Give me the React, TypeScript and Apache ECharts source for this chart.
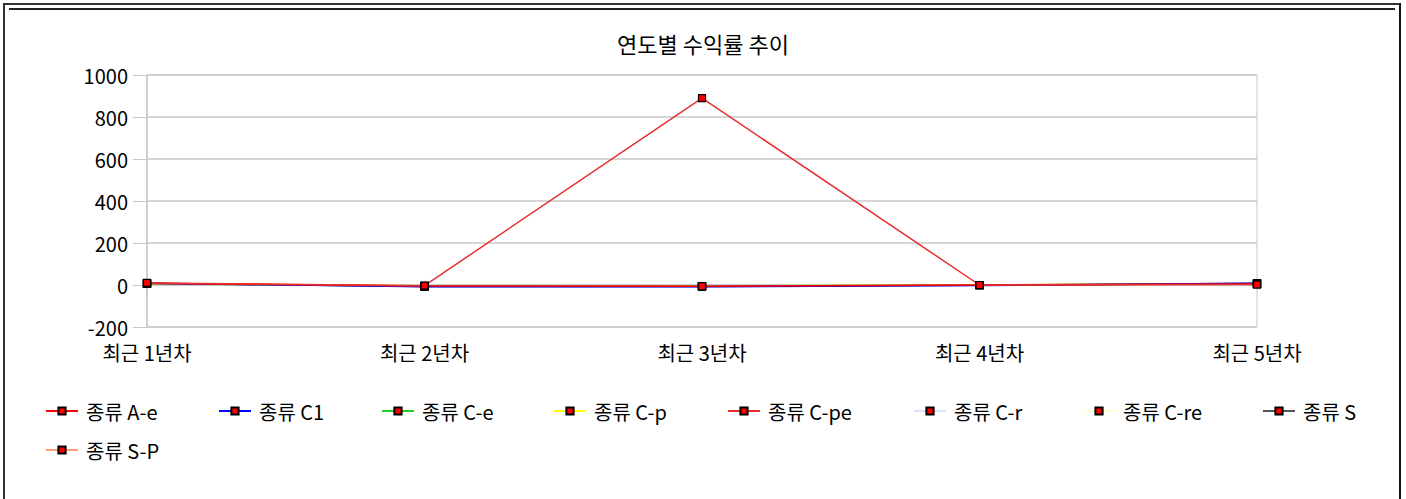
import React, { useEffect, useRef } from "react";
import * as echarts from "echarts";

const categories = ["최근 1년차", "최근 2년차", "최근 3년차", "최근 4년차", "최근 5년차"];
const seriesNames = ["종류 A-e", "종류 C1", "종류 C-e", "종류 C-p", "종류 C-pe", "종류 C-r", "종류 C-re", "종류 S", "종류 S-P"];
const seriesColors = ["#ff0000", "#0000ff", "#22cc22", "#ffff00", "#e83030", "#e0e0ff", "#ffffd0", "#555555", "#ffa070"];
const valuesAe = [8, -5, -6, 0, 5];
const valuesC1 = [8, -8, -8, -2, 8];
const valuesCe = [6, -5, -5, 0, 6];
const valuesCp = [6, -4, -5, 0, 5];
const valuesCpe = [10, -3, 890, 0, 2];
const valuesCr = [7, -6, -6, -1, 7];
const valuesCre = [6, -5, -5, 0, 6];
const valuesS = [8, -7, -7, -1, 8];
const valuesSP = [7, -6, -6, 0, 6];
const allValues = [valuesAe, valuesC1, valuesCe, valuesCp, valuesCpe, valuesCr, valuesCre, valuesS, valuesSP];
const drawOrder = [6, 5, 3, 2, 8, 7, 1, 0, 4];
const yTicks = { min: -200, max: 1000, interval: 200 };
const legendLefts = [45, 218, 381, 553, 727, 913, 1082, 1262, 45];
const legendRows = [0, 0, 0, 0, 0, 0, 0, 0, 1];

const FONT = "'Noto Sans CJK KR', 'Noto Sans', sans-serif";

export default function App() {
  const ref = useRef<HTMLDivElement>(null);
  useEffect(() => {
    if (!ref.current) return;
    const chart = echarts.init(ref.current, undefined, { renderer: "svg" });
    const series = drawOrder.map((i) => ({
      name: seriesNames[i],
      type: "line",
      data: allValues[i],
      symbol: "rect",
      symbolSize: 7,
      showSymbol: true,
      lineStyle: { color: seriesColors[i], width: 1.5 },
      itemStyle: { color: "#ff0000", borderColor: "#000000", borderWidth: 1.2 },
      emphasis: { disabled: true },
    }));
    const legends = seriesNames.map((n, i) => ({
      data: [n],
      left: legendLefts[i] - 5,
      top: 396 + legendRows[i] * 39,
      itemWidth: 32,
      itemHeight: 9,
      itemGap: 0,
      textStyle: { fontFamily: FONT, fontSize: 20, color: "#000", padding: [0, 0, 0, 3] },
      selectedMode: false,
    }));
    chart.setOption({
      animation: false,
      backgroundColor: "#ffffff",
      title: {
        text: "연도별 수익률 추이",
        left: "center",
        top: 27,
        textStyle: { fontFamily: FONT, fontSize: 22, fontWeight: "normal", color: "#000" },
      },
      legend: legends,
      grid: {
        left: 147,
        right: 149,
        top: 75,
        bottom: 172,
        show: true,
        borderColor: "#c8c8c8",
        borderWidth: 1,
      },
      xAxis: {
        type: "category",
        data: categories,
        boundaryGap: false,
        axisLine: { lineStyle: { color: "#c8c8c8", width: 1.5 } },
        axisTick: { show: true, length: 5, alignWithLabel: true, lineStyle: { color: "#c8c8c8" } },
        axisLabel: { fontFamily: FONT, fontSize: 20, lineHeight: 20, color: "#000", margin: 15, interval: 0 },
        splitLine: { show: false },
      },
      yAxis: {
        type: "value",
        min: yTicks.min,
        max: yTicks.max,
        interval: yTicks.interval,
        axisLine: { show: true, lineStyle: { color: "#c8c8c8", width: 1.5 } },
        axisTick: { show: true, length: 14, lineStyle: { color: "#c8c8c8" } },
        axisLabel: {
          fontFamily: FONT,
          fontSize: 20,
          lineHeight: 16,
          color: "#000",
          margin: 19,
          formatter: (v: number) => String(v),
        },
        splitLine: { show: true, lineStyle: { color: "#c8c8c8", width: 1.5 } },
      },
      graphic: [
        { type: "line", shape: { x1: 4, y1: 3, x2: 4, y2: 499 }, style: { stroke: "#333", lineWidth: 2 } },
        { type: "line", shape: { x1: 3, y1: 4, x2: 1401, y2: 4 }, style: { stroke: "#333", lineWidth: 2 } },
        { type: "line", shape: { x1: 1400, y1: 3, x2: 1400, y2: 499 }, style: { stroke: "#111", lineWidth: 2 } },
        { type: "line", shape: { x1: 9, y1: 9, x2: 1395, y2: 9 }, style: { stroke: "#222", lineWidth: 2 } },
      ],
      series,
    });
    return () => chart.dispose();
  }, []);
  return (
    <div
      ref={ref}
      style={{ position: "fixed", left: 0, top: 0, width: 1406, height: 499, background: "#fff" }}
    />
  );
}
